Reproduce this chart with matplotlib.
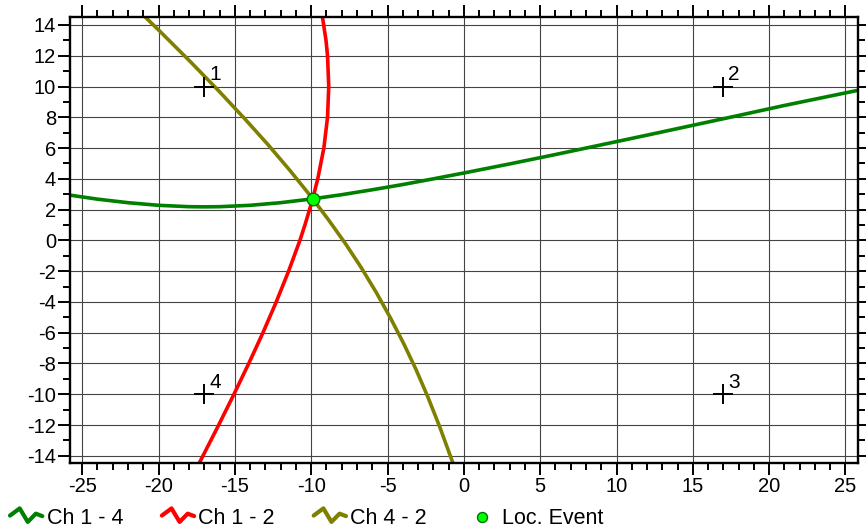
import matplotlib.pyplot as plt
import numpy as np
from matplotlib.legend_handler import HandlerBase
from matplotlib.lines import Line2D
from matplotlib.ticker import MultipleLocator

plt.rcParams["font.family"] = ["Liberation Sans", "DejaVu Sans"]
plt.rcParams["axes.unicode_minus"] = False

# sensor positions and labels
sensor_x = [-17, 17, 17, -17]
sensor_y = [10, 10, -10, -10]
sensor_labels = ["1", "2", "3", "4"]

# located event
event_x = [-9.9]
event_y = [2.7]

# Ch 1 - 4 curve (green)
ch14_x = [-25.8, -24, -22, -20, -18, -17, -16, -14, -12, -9.9, -8, -6, -4,
          -2, 0, 3, 6, 9, 12, 15, 18, 21, 25.8]
ch14_y = [2.94, 2.68, 2.45, 2.28, 2.19, 2.18, 2.19, 2.28, 2.45, 2.70, 2.97,
          3.29, 3.63, 4.00, 4.38, 4.97, 5.58, 6.21, 6.84, 7.48, 8.12, 8.77, 9.75]

# Ch 1 - 2 curve (red)
ch12_x = [-9.26, -9.03, -8.93, -8.85, -8.93, -9.17, -9.57, -9.90, -10.41,
          -10.74, -11.48, -12.29, -13.16, -14.09, -15.06, -16.06, -17.32]
ch12_y = [14.5, 13, 12, 10, 8, 6, 4, 2.7, 1, 0, -2, -4, -6, -8, -10, -12, -14.45]

# Ch 4 - 2 curve (olive)
ch42_x = [-0.66, -1.57, -2.34, -3.13, -3.96, -4.83, -5.74, -6.71, -7.75,
          -8.87, -10.07, -11.38, -12.80, -14.35, -16.04, -17.89, -19.92, -21.23]
ch42_y = [-14.62, -12.15, -10.22, -8.40, -6.67, -5.00, -3.38, -1.79, -0.22,
          1.34, 2.92, 4.53, 6.19, 7.90, 9.70, 11.59, 13.60, 14.86]


class ZigzagHandler(HandlerBase):
    # little wiggle icon like the original software draws
    def create_artists(self, legend, orig_handle, xdescent, ydescent,
                       width, height, fontsize, trans):
        fx = np.array([0.0, 0.30, 0.55, 0.80, 1.0])
        fy = np.array([0.47, 1.0, 0.0, 0.61, 0.43])
        h = 0.9 * height
        xs = -xdescent + fx * width
        ys = -ydescent + (height - h) / 2 + 0.12 * height + fy * h
        ln = Line2D(xs, ys, color=orig_handle.get_color(), lw=3.0,
                    solid_joinstyle="round", solid_capstyle="round",
                    transform=trans)
        return [ln]


fig = plt.figure(figsize=(8.66, 5.32), dpi=100)
ax = fig.add_axes([70 / 866, 1 - 462.7 / 532, (857.7 - 70) / 866,
                   (462.7 - 17.3) / 532])

l14, = ax.plot(ch14_x, ch14_y, color="#008000", lw=2.6, label="Ch 1 - 4")
l12, = ax.plot(ch12_x, ch12_y, color="#ff0000", lw=2.6, label="Ch 1 - 2")
l42, = ax.plot(ch42_x, ch42_y, color="#808000", lw=2.6, label="Ch 4 - 2")

ax.plot(sensor_x, sensor_y, "+", color="black", ms=15, mew=1.4, zorder=4)
for sx, sy, lab in zip(sensor_x, sensor_y, sensor_labels):
    ax.annotate(lab, (sx, sy), xytext=(3.5, 4.5), textcoords="offset points",
                ha="left", va="baseline", fontsize=15)

ev, = ax.plot(event_x, event_y, "o", color="#00ff00", mec="#007000",
              ms=9, mew=1.0, zorder=5, label="Loc. Event")

ax.set_xlim(-25.8, 25.8)
ax.set_ylim(-14.45, 14.5)

ax.xaxis.set_major_locator(MultipleLocator(5))
ax.xaxis.set_minor_locator(MultipleLocator(1))
ax.yaxis.set_major_locator(MultipleLocator(2))
ax.yaxis.set_minor_locator(MultipleLocator(1))

ax.grid(True, which="major", color="#444444", lw=0.8)
ax.set_axisbelow(True)

for s in ax.spines.values():
    s.set_linewidth(1.7)

ax.tick_params(which="both", direction="out", top=True, right=True,
               labeltop=False, labelright=False, width=1.4,
               labelsize=14.5, pad=1.5)
ax.tick_params(which="major", length=8.5)
ax.tick_params(which="minor", length=5)

leg = fig.legend(handles=[l14, l12, l42, ev], loc="center left",
                 bbox_to_anchor=(10 / 866, 1 - 519 / 532), ncol=4,
                 frameon=False, fontsize=15.5, handlelength=1.5,
                 handletextpad=0.2, columnspacing=1.8, borderpad=0,
                 borderaxespad=0, markerscale=0.8,
                 handler_map={l14: ZigzagHandler(), l12: ZigzagHandler(),
                              l42: ZigzagHandler()})

fig.savefig("out.png", dpi=100)
